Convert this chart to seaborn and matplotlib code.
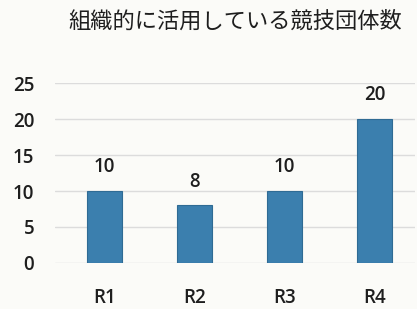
import matplotlib
matplotlib.use("Agg")
import matplotlib.pyplot as plt
import seaborn as sns
import pandas as pd

# --- data ---
categories = ["R1", "R2", "R3", "R4"]
counts = [10, 8, 10, 20]
y_ticks = [0, 5, 10, 15, 20, 25]
title = "組織的に活用している競技団体数"

df = pd.DataFrame({"round": categories, "count": counts})

sns.set_theme(style="white")
plt.rcParams["font.family"] = ["Open Sans", "Noto Sans CJK JP", "DejaVu Sans"]

bg = "#fbfbf8"
text_color = "#1e1e1e"
num_font = dict(family="Open Sans", size=13.5, weight="semibold")

fig = plt.figure(figsize=(4.17, 3.09), dpi=100, facecolor=bg)
ax = fig.add_axes([0.132, 0.149, 0.863, 0.582], facecolor=bg)

sns.barplot(data=df, x="round", y="count", ax=ax, color="#3b7fae",
            width=0.39, saturation=1, edgecolor="#2f6b94", linewidth=0.8,
            zorder=3)

for container in ax.containers:
    ax.bar_label(container, padding=10, color=text_color, fontproperties=num_font)

ax.set_ylim(0, 25)
ax.set_yticks(y_ticks)
ax.set_xlim(-0.55, 3.45)
ax.yaxis.grid(True, color="#dcdcdc", linewidth=1, zorder=0)
ax.set_xlabel("")
ax.set_ylabel("")
for s in ax.spines.values():
    s.set_visible(False)
ax.tick_params(axis="both", length=0, labelcolor=text_color)
ax.tick_params(axis="y", pad=15)
ax.tick_params(axis="x", pad=18)
for lab in ax.get_xticklabels() + ax.get_yticklabels():
    lab.set_fontproperties(num_font)

fig.text(0.565, 0.93, title, ha="center", va="center", fontsize=16,
         color=text_color, family=["Noto Sans CJK JP", "DejaVu Sans"])

fig.savefig("out.png", dpi=100, facecolor=bg)
